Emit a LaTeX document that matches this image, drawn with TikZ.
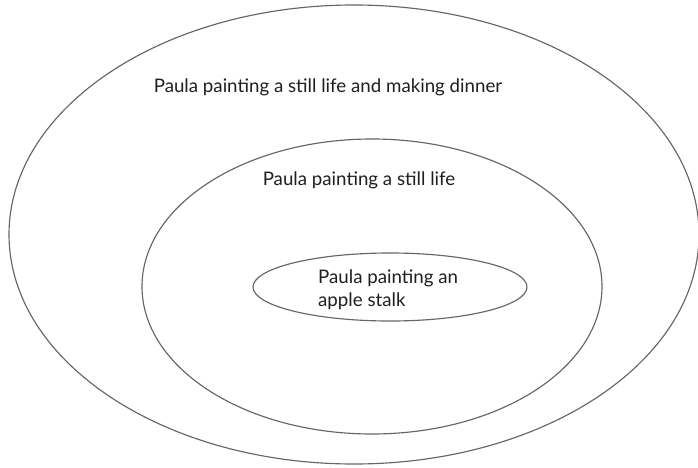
\documentclass[tikz,border=0pt]{standalone}
\usepackage{fontspec}
\setmainfont{Lato}
\usetikzlibrary{shapes.geometric}
\begin{document}
\begin{tikzpicture}[x=1pt,y=1pt,
  ring/.style={draw=black!60, line width=1.15pt, ellipse, inner sep=0pt, fill=none},
  lbl/.style={font=\fontsize{18.7}{23}\selectfont, text=black!88, inner sep=0pt}]
\useasboundingbox (0,0) rectangle (698,467);
\fill[white] (0,0) rectangle (698,467);
\node[ring, minimum width=690pt, minimum height=459pt] (outer) at (354,232.5) {};
\node[ring, minimum width=460pt, minimum height=295pt] (middle) at (372,180.5) {};
\node[ring, minimum width=274pt, minimum height=68pt] (inner) at (390,180) {};
\node[lbl, anchor=base] (t1) at (328,374) {Paula painting a still life and making dinner};
\node[lbl, anchor=base] (t2) at (359,282) {Paula painting a still life};
\node[lbl, anchor=base west] (t3a) at (318,184) {Paula painting an};
\node[lbl, anchor=base west] (t3b) at (318,161) {apple stalk};
\end{tikzpicture}
\end{document}
